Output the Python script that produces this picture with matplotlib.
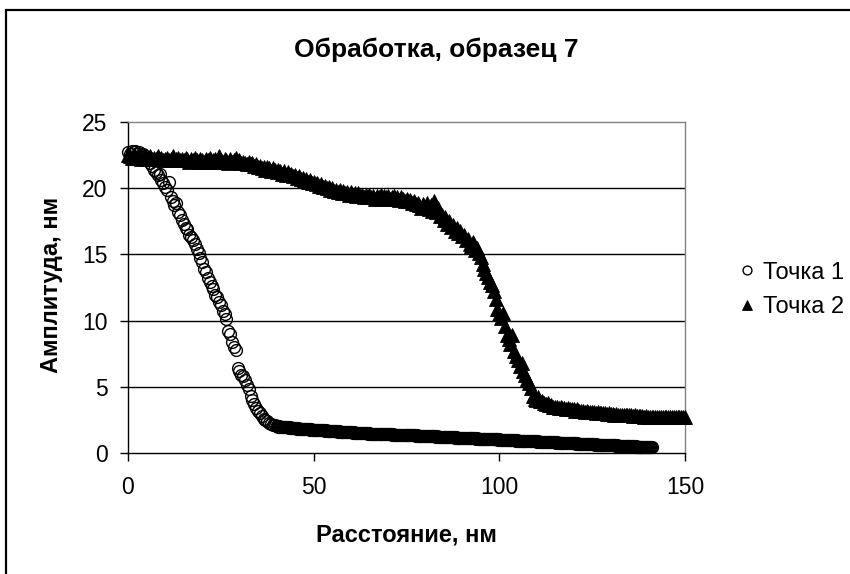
import matplotlib.pyplot as plt
import numpy as np
from matplotlib.patches import Rectangle

plt.rcParams['font.family'] = ['Liberation Sans', 'DejaVu Sans']

title = 'Обработка, образец 7'
x_label = 'Расстояние, нм'
y_label = 'Амплитуда, нм'
names = ['Точка 1', 'Точка 2']

# distance grids, nm
x1_head = np.arange(0, 40.01, 0.5)        # steep part, 0.5 nm step
x1_tail = np.arange(40.25, 141.01, 0.25)  # tail, 0.25 nm step
x2 = np.arange(0, 150.01, 0.5)

# Точка 1 amplitude, nm (0 .. 40 nm)
y1_head = [
    22.7, 22.6, 22.8, 22.7, 22.8, 22.6, 22.7, 22.5, 22.6, 22.4,
    22.3, 22.1, 21.9, 21.7, 21.4, 21.2, 21.0, 21.1, 20.6, 20.4,
    20.1, 19.9, 20.5, 19.3, 19.0, 18.7, 18.9, 18.2, 18.0, 17.6,
    17.3, 17.0, 16.9, 16.5, 16.3, 16.1, 15.8, 15.4, 15.1, 14.7,
    14.4, 13.9, 13.7, 13.2, 12.9, 12.6, 12.4, 11.9, 11.8, 11.4,
    11.2, 10.7, 10.5, 10.1, 9.2, 9.0, 8.4, 8.0, 7.8, 6.4,
    6.2, 5.9, 5.8, 5.5, 5.1, 4.8, 4.3, 4.0, 3.7, 3.4,
    3.2, 3.0, 2.8, 2.6, 2.5, 2.4, 2.3, 2.2, 2.15, 2.1,
    2.05,
]

# Точка 1 amplitude, nm (40.25 .. 141 nm)
y1_tail = [
    2.05, 2.0, 2.05, 2.0, 1.98, 2.0, 1.96, 1.98, 1.95, 1.97, 1.93, 1.95, 1.92, 1.94, 1.9, 1.92, 1.89, 1.9, 1.88, 1.86,
    1.88, 1.85, 1.86, 1.84, 1.85, 1.82, 1.84, 1.81, 1.83, 1.8, 1.82, 1.79, 1.8, 1.78, 1.8, 1.77, 1.78, 1.76, 1.77, 1.75,
    1.76, 1.74, 1.75, 1.73, 1.74, 1.72, 1.73, 1.71, 1.72, 1.7, 1.71, 1.69, 1.7, 1.68, 1.69, 1.67, 1.68, 1.66, 1.67, 1.65,
    1.66, 1.64, 1.65, 1.63, 1.64, 1.62, 1.63, 1.61, 1.62, 1.6, 1.61, 1.59, 1.6, 1.58, 1.59, 1.57, 1.58, 1.56, 1.57, 1.55,
    1.56, 1.54, 1.55, 1.53, 1.54, 1.53, 1.52, 1.53, 1.51, 1.52, 1.5, 1.51, 1.5, 1.49, 1.5, 1.48, 1.49, 1.48, 1.47, 1.48,
    1.47, 1.46, 1.47, 1.45, 1.46, 1.45, 1.44, 1.45, 1.43, 1.44, 1.43, 1.42, 1.43, 1.42, 1.41, 1.42, 1.41, 1.4, 1.41, 1.42,
    1.41, 1.4, 1.41, 1.39, 1.4, 1.39, 1.38, 1.39, 1.38, 1.37, 1.38, 1.37, 1.36, 1.37, 1.36, 1.35, 1.36, 1.35, 1.36, 1.36,
    1.35, 1.36, 1.35, 1.34, 1.35, 1.34, 1.33, 1.34, 1.33, 1.32, 1.33, 1.32, 1.31, 1.32, 1.31, 1.3, 1.31, 1.3, 1.29, 1.3,
    1.29, 1.28, 1.29, 1.27, 1.28, 1.27, 1.26, 1.27, 1.25, 1.26, 1.25, 1.24, 1.25, 1.24, 1.23, 1.24, 1.23, 1.22, 1.23, 1.22,
    1.21, 1.22, 1.21, 1.2, 1.21, 1.2, 1.19, 1.2, 1.18, 1.19, 1.18, 1.17, 1.18, 1.17, 1.16, 1.17, 1.16, 1.15, 1.16, 1.15,
    1.14, 1.15, 1.14, 1.13, 1.14, 1.13, 1.12, 1.13, 1.11, 1.12, 1.11, 1.1, 1.11, 1.1, 1.09, 1.1, 1.09, 1.08, 1.09, 1.08,
    1.07, 1.08, 1.07, 1.06, 1.07, 1.06, 1.05, 1.06, 1.05, 1.04, 1.05, 1.04, 1.03, 1.04, 1.03, 1.02, 1.03, 1.02, 1.01, 1.02,
    1.01, 1.0, 1.01, 0.99, 1.0, 0.99, 0.98, 0.99, 0.97, 0.98, 0.97, 0.96, 0.97, 0.96, 0.95, 0.96, 0.95, 0.94, 0.95, 0.94,
    0.93, 0.94, 0.93, 0.92, 0.93, 0.91, 0.92, 0.91, 0.9, 0.91, 0.9, 0.89, 0.9, 0.89, 0.88, 0.89, 0.88, 0.87, 0.88, 0.87,
    0.86, 0.87, 0.86, 0.85, 0.86, 0.84, 0.85, 0.84, 0.83, 0.84, 0.83, 0.82, 0.83, 0.82, 0.81, 0.82, 0.81, 0.8, 0.81, 0.8,
    0.79, 0.8, 0.79, 0.78, 0.79, 0.77, 0.78, 0.77, 0.76, 0.77, 0.76, 0.75, 0.76, 0.75, 0.74, 0.75, 0.74, 0.73, 0.74, 0.72,
    0.72, 0.73, 0.71, 0.72, 0.71, 0.7, 0.71, 0.7, 0.69, 0.7, 0.69, 0.68, 0.69, 0.68, 0.67, 0.68, 0.67, 0.66, 0.67, 0.65,
    0.65, 0.66, 0.64, 0.65, 0.64, 0.63, 0.64, 0.63, 0.62, 0.63, 0.62, 0.61, 0.62, 0.61, 0.6, 0.61, 0.6, 0.59, 0.6, 0.58,
    0.58, 0.59, 0.57, 0.58, 0.57, 0.56, 0.57, 0.56, 0.55, 0.56, 0.55, 0.54, 0.55, 0.54, 0.53, 0.54, 0.53, 0.52, 0.53, 0.51,
    0.51, 0.52, 0.5, 0.51, 0.5, 0.49, 0.5, 0.49, 0.48, 0.49, 0.48, 0.47, 0.48, 0.47, 0.46, 0.47, 0.46, 0.45, 0.46, 0.44,
    0.44, 0.45, 0.43, 0.44,
]

# Точка 2 amplitude, nm (0 .. 150 nm)
y2 = [
    22.5, 22.4, 22.3, 22.5, 22.4, 22.3, 22.4, 22.2, 22.3, 22.4,
    22.2, 22.3, 22.4, 22.2, 22.3, 22.2, 22.4, 22.2, 22.3, 22.1,
    22.2, 22.3, 22.1, 22.2, 22.4, 22.1, 22.2, 22.3, 22.1, 22.2,
    22.1, 22.3, 22.2, 22.0, 22.2, 22.1, 22.3, 22.1, 22.0, 22.2,
    22.1, 22.0, 22.2, 22.1, 22.3, 22.0, 22.1, 22.2, 22.0, 22.4,
    22.1, 22.0, 22.2, 22.1, 21.9, 22.2, 22.0, 22.1, 22.3, 22.0,
    22.1, 21.9, 22.0, 21.9, 21.8, 22.0, 21.8, 21.9, 21.7, 21.8,
    21.6, 21.7, 21.5, 21.6, 21.4, 21.6, 21.5, 21.3, 21.5, 21.4,
    21.2, 21.4, 21.3, 21.1, 21.3, 21.0, 21.2, 21.0, 21.1, 20.9,
    21.0, 20.8, 20.9, 20.7, 20.8, 20.6, 20.7, 20.5, 20.6, 20.4,
    20.5, 20.3, 20.4, 20.2, 20.3, 20.1, 20.2, 20.0, 20.1, 19.9,
    20.0, 19.8, 19.9, 19.7, 19.9, 19.6, 19.8, 19.6, 19.7, 19.5,
    19.7, 19.5, 19.6, 19.4, 19.6, 19.4, 19.5, 19.3, 19.5, 19.3,
    19.5, 19.3, 19.4, 19.2, 19.4, 19.3, 19.5, 19.2, 19.4, 19.3,
    19.4, 19.2, 19.3, 19.4, 19.2, 19.3, 19.1, 19.3, 19.2, 19.0,
    19.2, 19.0, 19.1, 18.9, 19.0, 18.8, 18.9, 18.7, 18.5, 18.8,
    18.6, 18.9, 18.4, 18.7, 18.3, 19.0, 18.2, 18.5, 17.9, 18.0,
    17.6, 17.8, 17.3, 17.5, 17.1, 17.2, 16.8, 17.0, 16.6, 16.8,
    16.4, 16.5, 16.1, 16.2, 15.8, 15.6, 15.9, 15.3, 15.5, 15.1,
    14.8, 14.3, 13.9, 13.6, 13.3, 12.9, 12.7, 12.2, 11.6, 10.9,
    10.5, 10.2, 10.6, 9.6, 8.9, 8.6, 8.2, 8.9, 7.7, 7.3,
    7.0, 6.6, 6.8, 6.2, 5.9, 5.6, 5.3, 4.9, 4.3, 4.1,
    4.0, 4.2, 3.9, 3.9, 3.8, 3.7, 3.8, 3.6, 3.6, 3.5,
    3.5, 3.5, 3.4, 3.5, 3.4, 3.4, 3.3, 3.4, 3.3, 3.3,
    3.3, 3.2, 3.3, 3.2, 3.2, 3.2, 3.1, 3.2, 3.1, 3.1,
    3.1, 3.1, 3.0, 3.1, 3.0, 3.0, 3.0, 3.0, 2.95, 3.0,
    2.95, 2.95, 2.9, 2.95, 2.9, 2.9, 2.9, 2.85, 2.9, 2.85,
    2.85, 2.85, 2.8, 2.85, 2.8, 2.8, 2.8, 2.8, 2.75, 2.8,
    2.75, 2.75, 2.75, 2.75, 2.7, 2.75, 2.7, 2.7, 2.7, 2.7,
    2.7, 2.7, 2.7, 2.7, 2.7, 2.7, 2.7, 2.7, 2.7, 2.7,
    2.7,
]

x1 = np.concatenate([x1_head, x1_tail])
y1 = np.array(y1_head + y1_tail)

W, H = 850, 574
fig = plt.figure(figsize=(W / 100, H / 100), dpi=100)
ax = fig.add_axes([128 / W, 1 - 453 / H, 557 / W, 331 / H])

ax.plot(x1, y1, linestyle='none', marker='o', markersize=8.5,
        markerfacecolor='none', markeredgecolor='black', markeredgewidth=1.0,
        label=names[0], clip_on=False, zorder=3)
ax.plot(x2, y2, linestyle='none', marker='^', markersize=10,
        markerfacecolor='black', markeredgecolor='black', markeredgewidth=0.6,
        label=names[1], clip_on=False, zorder=3)

ax.set_xlim(0, 150)
ax.set_ylim(0, 25)
ax.set_xticks([0, 50, 100, 150])
ax.set_yticks([0, 5, 10, 15, 20, 25])
ax.tick_params(direction='out', length=5.8, width=1, labelsize=16.5)
ax.tick_params(axis='x', pad=11)
ax.tick_params(axis='y', pad=9)

for y in [5, 10, 15, 20]:
    ax.axhline(y, color='black', linewidth=1, zorder=1)

ax.spines['left'].set_color('black')
ax.spines['bottom'].set_color('black')
ax.spines['top'].set_color('#808080')
ax.spines['right'].set_color('#808080')
for s in ax.spines.values():
    s.set_linewidth(1)

fig.text(436 / W, 1 - 50 / H, title, fontsize=19, fontweight='bold',
         ha='center', va='center')
fig.text(406.5 / W, 1 - 535 / H, x_label, fontsize=17, fontweight='bold',
         ha='center', va='center')
fig.text(52 / W, 1 - 285 / H, y_label, fontsize=17, fontweight='bold',
         ha='center', va='center', rotation=90)

fig.legend(loc='center left', bbox_to_anchor=(740 / W, 1 - 290 / H),
           frameon=False, fontsize=17, handlelength=0.6, handletextpad=0.38,
           labelspacing=0.55, borderpad=0, borderaxespad=0, markerscale=0.75)

fig.add_artist(Rectangle((5.5 / W, -0.02), 1.05, 1 - 10 / H + 0.02,
                         transform=fig.transFigure, fill=False,
                         edgecolor='black', linewidth=1.6, clip_on=False))

fig.savefig('out.png', dpi=100)
